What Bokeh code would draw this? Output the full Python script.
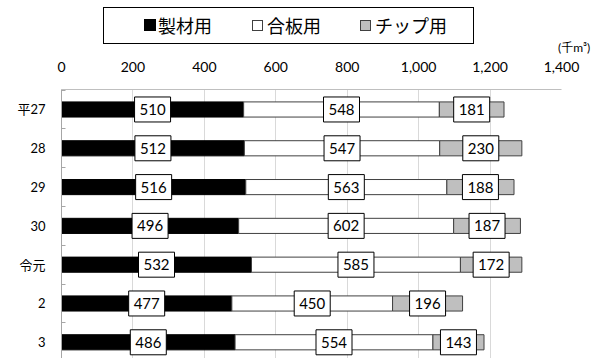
from bokeh.plotting import figure
from bokeh.layouts import column
from bokeh.models import Range1d, FixedTicker, NumeralTickFormatter, Div
from bokeh.core.properties import value
from bokeh.embed import file_html
from bokeh.resources import INLINE

# ---- data ----
categories = ["平27", "28", "29", "30", "令元", "2", "3"]
sawn = [510, 512, 516, 496, 532, 477, 486]
plywood = [548, 547, 563, 602, 585, 450, 554]
chip = [181, 230, 188, 187, 172, 196, 143]
series_names = ["製材用", "合板用", "チップ用"]
series_colors = ["black", "white", "#bfbfbf"]
series_lines = ["black", "#404040", "#404040"]
x_ticks = [0, 200, 400, 600, 800, 1000, 1200, 1400]
unit_label = "(千m³)"

NUM_FONT = "Lato, 'Noto Sans CJK JP'"
JP_FONT = "'Noto Sans CJK JP'"

W = 603
HEAD_H = 54
MAIN_H = 304

# ---------------- header: legend box + unit (HTML) ----------------
sw_left = [144, 252, 360]
sw_top = [19, 20, 20]
sw_size = [12, 11, 11]
txt_left = [158, 267, 375]
parts = ['<div style="position:relative;width:%dpx;height:%dpx;margin:0;padding:0;'
         'background:white;color:black;">' % (W, HEAD_H),
         '<div style="position:absolute;left:103px;top:7px;width:371px;height:37px;'
         'box-sizing:border-box;border:1px solid black;background:white;"></div>']
for name, fc, lc, sl, st, ss, tl in zip(series_names, series_colors, series_lines,
                                        sw_left, sw_top, sw_size, txt_left):
    parts.append('<div style="position:absolute;left:%dpx;top:%dpx;width:%dpx;height:%dpx;'
                 'box-sizing:border-box;border:1px solid %s;background:%s;"></div>'
                 % (sl, st, ss, ss, lc, fc))
    parts.append('<span style="position:absolute;left:%dpx;top:15px;font-family:%s;'
                 'font-size:18px;line-height:20px;white-space:nowrap;">%s</span>'
                 % (tl, JP_FONT.replace("'", "&quot;"), name))
parts.append('<span style="position:absolute;left:558px;top:41px;font-family:%s;'
             'font-size:12px;line-height:13px;white-space:nowrap;">%s</span>'
             % (NUM_FONT.replace("'", "&quot;"), unit_label))
parts.append('</div>')
header = Div(text="".join(parts), width=W, height=HEAD_H, margin=0)

# ---------------- main chart ----------------
pos = list(range(len(categories)))
l1 = [0] * len(sawn)
r1 = list(sawn)
l2 = list(r1)
r2 = [a + b for a, b in zip(r1, plywood)]
l3 = list(r2)
r3 = [a + b for a, b in zip(r2, chip)]

p = figure(width=W, height=MAIN_H,
           x_range=Range1d(0, 1400), y_range=Range1d(6.418, -0.515),
           x_axis_location="above",
           output_backend="svg", toolbar_location=None,
           min_border_left=61, min_border_right=42,
           min_border_top=35, min_border_bottom=0)
p.outline_line_color = None
p.background_fill_color = "white"
p.border_fill_color = "white"

p.xgrid.grid_line_color = "#d9d9d9"
p.xgrid.grid_line_width = 1
p.ygrid.visible = False

xa = p.xaxis[0]
xa.ticker = FixedTicker(ticks=x_ticks)
xa.formatter = NumeralTickFormatter(format="0,0")
xa.axis_line_color = "#bfbfbf"
xa.major_tick_line_color = None
xa.major_tick_out = 0
xa.major_tick_in = 0
xa.minor_tick_line_color = None
xa.minor_tick_out = 0
xa.major_label_text_font = NUM_FONT
xa.major_label_text_font_size = "14px"
xa.major_label_text_color = "black"
xa.major_label_standoff = 18

ya = p.yaxis[0]
ya.ticker = FixedTicker(ticks=pos, minor_ticks=[k - 0.5 for k in range(len(pos) + 1)])
ya.major_label_overrides = {i: c for i, c in zip(pos, categories)}
ya.axis_line_color = "#a6a6a6"
ya.major_tick_line_color = None
ya.major_tick_out = 0
ya.major_tick_in = 0
ya.minor_tick_line_color = "#a6a6a6"
ya.minor_tick_in = 4
ya.minor_tick_out = 0
ya.major_label_text_font = NUM_FONT
ya.major_label_text_font_size = "13px"
ya.major_label_text_color = "black"
ya.major_label_standoff = 16

bh = 0.39
for lefts, rights, fc, lc in ((l1, r1, series_colors[0], series_lines[0]),
                              (l2, r2, series_colors[1], series_lines[1]),
                              (l3, r3, series_colors[2], series_lines[2])):
    p.hbar(y=pos, left=lefts, right=rights, height=bh,
           fill_color=fc, line_color=lc, line_width=1)

lx, ly, lt = [], [], []
for lefts, vals in ((l1, sawn), (l2, plywood), (l3, chip)):
    for i, (a, v) in enumerate(zip(lefts, vals)):
        lx.append(a + v / 2)
        ly.append(pos[i])
        lt.append(str(v))
p.rect(x=lx, y=ly, width=36, height=25, width_units="screen", height_units="screen",
       fill_color="white", line_color="black", line_width=1)
p.text(x=lx, y=ly, text=lt, text_align="center", text_baseline="middle",
       text_font=value("Lato"), text_font_size="15px", text_color="black")

layout = column(header, p, spacing=0)
open("out.html", "w").write(file_html(layout, INLINE))
